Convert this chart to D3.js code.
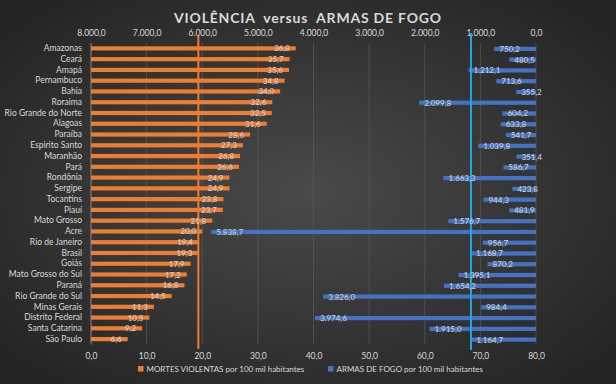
<html>
<head>
<script src="https://d3js.org/d3.v7.min.js"></script>
<style>
  body { margin: 0; background: #222; }
  text { font-family: Lato, "Open Sans", sans-serif; fill: #d9d9d9; }
  .grid line { stroke: #575757; stroke-width: 0.8; }
</style>
</head>
<body>
<svg id="chart" width="616" height="384"></svg>
<script>
// states, top to bottom
const states = ["Amazonas", "Ceará", "Amapá", "Pernambuco", "Bahia", "Roraima", "Rio Grande do Norte",
  "Alagoas", "Paraíba", "Espirito Santo", "Maranhão", "Pará", "Rondônia", "Sergipe", "Tocantins",
  "Piauí", "Mato Grosso", "Acre", "Rio de Janeiro", "Brasil", "Goiás", "Mato Grosso do Sul", "Paraná",
  "Rio Grande do Sul", "Minas Gerais", "Distrito Federal", "Santa Catarina", "São Paulo"];
// MORTES VIOLENTAS por 100 mil habitantes
const mortes = [36.8, 35.7, 35.6, 34.8, 34.0, 32.6, 32.5, 31.6, 28.6, 27.3, 26.8, 26.6, 24.9, 24.9, 23.8,
  23.7, 21.8, 20.0, 19.4, 19.3, 17.9, 17.2, 16.8, 14.5, 11.3, 10.5, 9.2, 6.6];
// ARMAS DE FOGO por 100 mil habitantes
const armas = [750.2, 480.5, 1212.1, 713.6, 355.2, 2099.8, 604.2, 633.8, 541.7, 1039.8, 351.4, 586.7,
  1663.3, 423.8, 944.3, 481.9, 1576.7, 5838.7, 956.7, 1168.7, 870.2, 1395.1, 1654.2, 3826.0, 984.4,
  3974.6, 1915.0, 1164.7];
const bottomTicks = [0, 10, 20, 30, 40, 50, 60, 70, 80];
const topTicks = [0, 1000, 2000, 3000, 4000, 5000, 6000, 7000, 8000];
const refName = "Brasil";

const svg = d3.select("#chart");
const W = 616, H = 384;
const plotL = 91, plotR = 536, plotT = 43, plotB = 344.5;

// background
const defs = svg.append("defs");
const grad = defs.append("radialGradient").attr("id", "bg").attr("cx", "50%").attr("cy", "50%").attr("r", "65%");
grad.append("stop").attr("offset", "0%").attr("stop-color", "#4a4a4a");
grad.append("stop").attr("offset", "100%").attr("stop-color", "#242424");
svg.append("rect").attr("width", W).attr("height", H).attr("fill", "url(#bg)");

const fmt = (v, d) => {
  let s = d3.format(",." + d + "f")(v);
  return s.replace(/,/g, "#").replace(".", ",").replace(/#/g, ".");
};

const x = d3.scaleLinear().domain([0, 80]).range([plotL, plotR]);
const xTop = d3.scaleLinear().domain([0, 8000]).range([plotR, plotL]);
const y = d3.scaleBand().domain(states).range([plotT, plotB]);

// gridlines
svg.append("g").attr("class", "grid")
  .selectAll("line").data(bottomTicks.slice(1)).join("line")
  .attr("x1", d => x(d)).attr("x2", d => x(d))
  .attr("y1", plotT).attr("y2", plotB);

// left axis line
svg.append("line").attr("x1", plotL).attr("x2", plotL).attr("y1", plotT).attr("y2", plotB)
  .attr("stroke", "#8a8a8a").attr("stroke-width", 1);

// axes
const bAxis = svg.append("g").attr("transform", `translate(0,${plotB})`)
  .call(d3.axisBottom(x).tickValues(bottomTicks).tickSize(0).tickPadding(8).tickFormat(d => fmt(d, 1)));
const tAxis = svg.append("g").attr("transform", `translate(0,${plotT})`)
  .call(d3.axisTop(xTop).tickValues(topTicks).tickSize(0).tickPadding(7).tickFormat(d => fmt(d, 1)));
const lAxis = svg.append("g").attr("transform", `translate(${plotL - 9},0)`)
  .call(d3.axisLeft(y).tickSize(0).tickPadding(0));
[bAxis, tAxis, lAxis].forEach(g => {
  g.select(".domain").remove();
  g.selectAll("text").style("font-size", "8.5px").attr("fill", "#d0d0d0");
});

const rows = states.map((s, i) => ({ s, m: mortes[i], a: armas[i] }));
const bh = 4.2;

// blue bars
svg.append("g").selectAll("rect").data(rows).join("rect")
  .attr("x", d => xTop(d.a)).attr("width", d => plotR - xTop(d.a))
  .attr("y", d => y(d.s) + y.bandwidth() / 2 - bh / 2 + 0.5).attr("height", bh)
  .attr("fill", "#4472c4");

// orange bars
svg.append("g").selectAll("rect").data(rows).join("rect")
  .attr("x", plotL).attr("width", d => x(d.m) - plotL)
  .attr("y", d => y(d.s) + y.bandwidth() / 2 - bh / 2).attr("height", bh)
  .attr("fill", "#ed7d31");

// reference lines at Brasil values
const ref = rows.find(d => d.s === refName);
svg.append("line").attr("x1", x(ref.m)).attr("x2", x(ref.m)).attr("y1", 36).attr("y2", 349)
  .attr("stroke", "#ed7d31").attr("stroke-width", 2);
svg.append("line").attr("x1", xTop(ref.a)).attr("x2", xTop(ref.a)).attr("y1", 33).attr("y2", 350)
  .attr("stroke", "#1fa8e0").attr("stroke-width", 2);

// value labels
svg.append("g").selectAll("text").data(rows).join("text")
  .attr("x", d => x(d.m) - 6).attr("y", d => y(d.s) + y.bandwidth() / 2 + 3)
  .attr("text-anchor", "end").style("font-size", "8px").attr("fill", "#e6d6c8")
  .text(d => fmt(d.m, 1));
svg.append("g").selectAll("text").data(rows).join("text")
  .attr("x", d => xTop(d.a) + 5).attr("y", d => y(d.s) + y.bandwidth() / 2 + 3.5)
  .attr("text-anchor", "start").style("font-size", "8px").attr("fill", "#d4dcec")
  .text(d => fmt(d.a, 1));

// title
svg.append("text").attr("x", 308).attr("y", 23).attr("text-anchor", "middle")
  .style("font-size", "14px").style("font-weight", "bold").style("letter-spacing", "0.8px")
  .attr("fill", "#d9d9d9").attr("xml:space", "preserve")
  .text("VIOLÊNCIA  versus  ARMAS DE FOGO");

// legend
const legend = [
  { label: "MORTES VIOLENTAS por 100 mil habitantes", color: "#ed7d31", x: 138 },
  { label: "ARMAS DE FOGO por 100 mil habitantes", color: "#4472c4", x: 328 }
];
const lg = svg.append("g").selectAll("g").data(legend).join("g");
lg.append("rect").attr("x", d => d.x).attr("y", 366).attr("width", 5.5).attr("height", 5.5).attr("fill", d => d.color);
lg.append("text").attr("x", d => d.x + 8.5).attr("y", 372).style("font-size", "8px").attr("fill", "#d0d0d0")
  .text(d => d.label);
</script>
</body>
</html>
